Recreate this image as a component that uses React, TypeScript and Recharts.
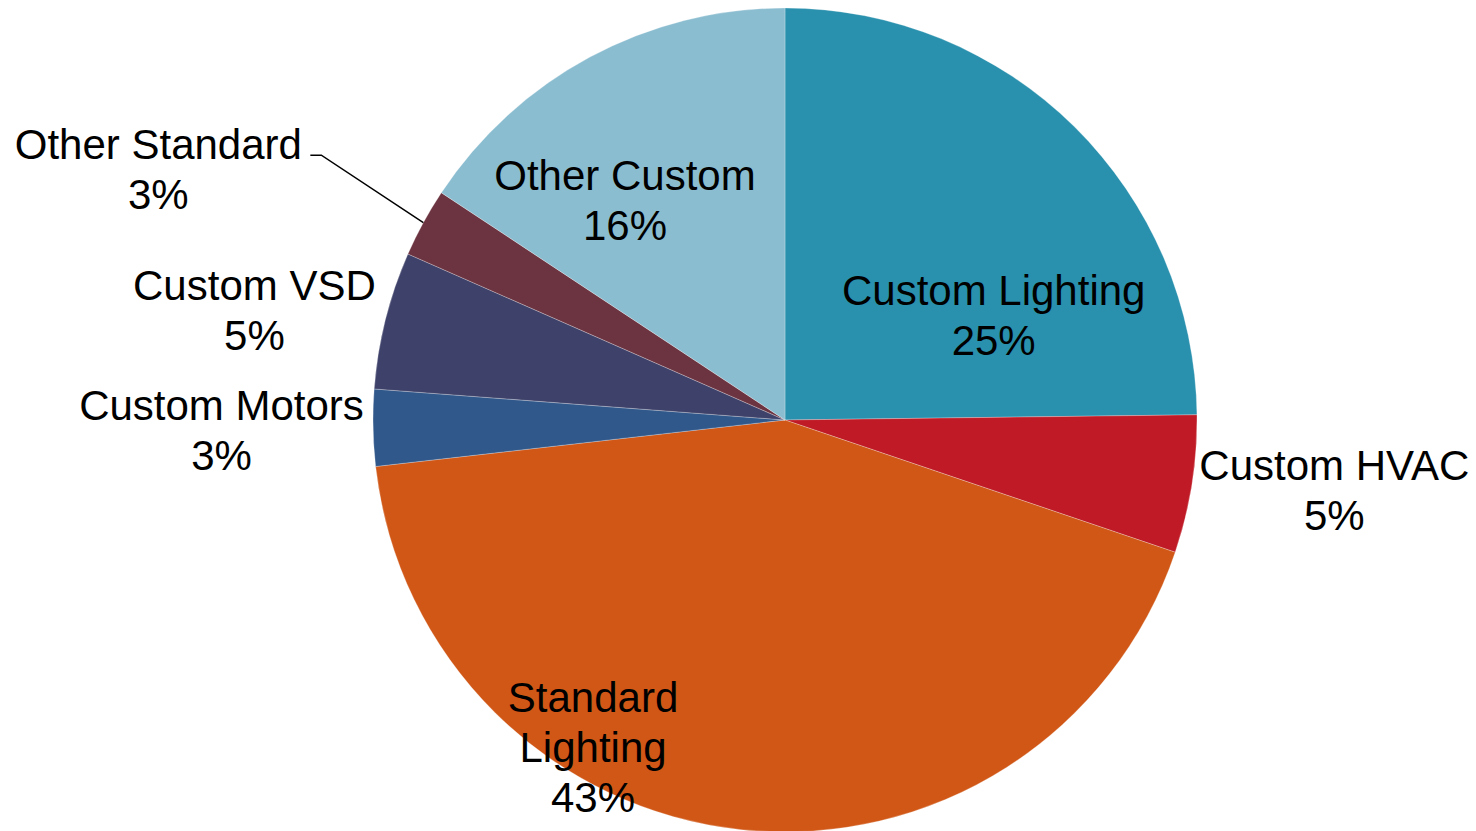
import React from "react";
import { PieChart, Pie, Cell } from "recharts";

const categories = [
  "Custom Lighting",
  "Custom HVAC",
  "Standard Lighting",
  "Custom Motors",
  "Custom VSD",
  "Other Standard",
  "Other Custom",
];
const shares = [24.8, 5.4, 43.0, 3.0, 5.4, 2.7, 15.7];
const colors = ["#2990AD", "#BF1A25", "#D05716", "#31588A", "#3E4169", "#6C3340", "#8BBDD0"];

// label placement: radial factor k along mid-angle, then pixel nudge; wrap = split name on space
const labelLayout = [
  { k: 0.6, dx: 35, dy: 61, wrap: false, leader: false },
  { k: 1.2, dx: 61, dy: -17, wrap: false, leader: false },
  { k: 0.75, dx: -159, dy: -15, wrap: true, leader: false },
  { k: 1.3, dx: -28, dy: -10, wrap: false, leader: false },
  { k: 1.3, dx: -11, dy: 10, wrap: false, leader: false },
  { k: 1.6, dx: -48, dy: 55, wrap: false, leader: true },
  { k: 0.6, dx: -43, dy: -12, wrap: false, leader: false },
];

const data = categories.map((name, i) => ({ name, value: shares[i] }));

const RAD = Math.PI / 180;
const FONT = "'Liberation Sans', Arial, sans-serif";
const LINE = 50;

const renderLabel = (props: any) => {
  const { cx, cy, midAngle, outerRadius, percent, index, name } = props;
  const lay = labelLayout[index];
  const r = outerRadius * lay.k;
  const x = cx + r * Math.cos(-midAngle * RAD) + lay.dx;
  const y = cy + r * Math.sin(-midAngle * RAD) + lay.dy;
  const lines = lay.wrap ? String(name).split(" ") : [String(name)];
  lines.push(`${Math.round(percent * 100)}%`);
  let leader = null;
  if (lay.leader) {
    const sx = cx + outerRadius * Math.cos(-midAngle * RAD);
    const sy = cy + outerRadius * Math.sin(-midAngle * RAD);
    const ex = x + 163;
    const ey = y - 4;
    leader = (
      <polyline
        points={`${sx},${sy} ${ex},${ey} ${x + 152},${ey}`}
        fill="none"
        stroke="#000"
        strokeWidth={1.5}
      />
    );
  }
  return (
    <g key={`lbl-${index}`}>
      {leader}
      <text x={x} y={y} textAnchor="middle" fontFamily={FONT} fontSize={42} fill="#000">
        {lines.map((t, j) => (
          <tspan key={j} x={x} y={y + j * LINE}>
            {t}
          </tspan>
        ))}
      </text>
    </g>
  );
};

export default function App() {
  return (
    <div style={{ position: "absolute", left: 0, top: 0, width: 1476, height: 831, background: "#fff" }}>
      <PieChart width={1476} height={831} margin={{ top: 0, right: 0, bottom: 0, left: 0 }}>
        <Pie
          data={data}
          dataKey="value"
          nameKey="name"
          cx={785}
          cy={420}
          outerRadius={412}
          startAngle={90}
          endAngle={-270}
          stroke="#ffffff"
          strokeOpacity={0.35}
          strokeWidth={0.75}
          label={renderLabel}
          labelLine={false}
          isAnimationActive={false}
        >
          {data.map((d, i) => (
            <Cell key={d.name} fill={colors[i]} />
          ))}
        </Pie>
      </PieChart>
    </div>
  );
}
